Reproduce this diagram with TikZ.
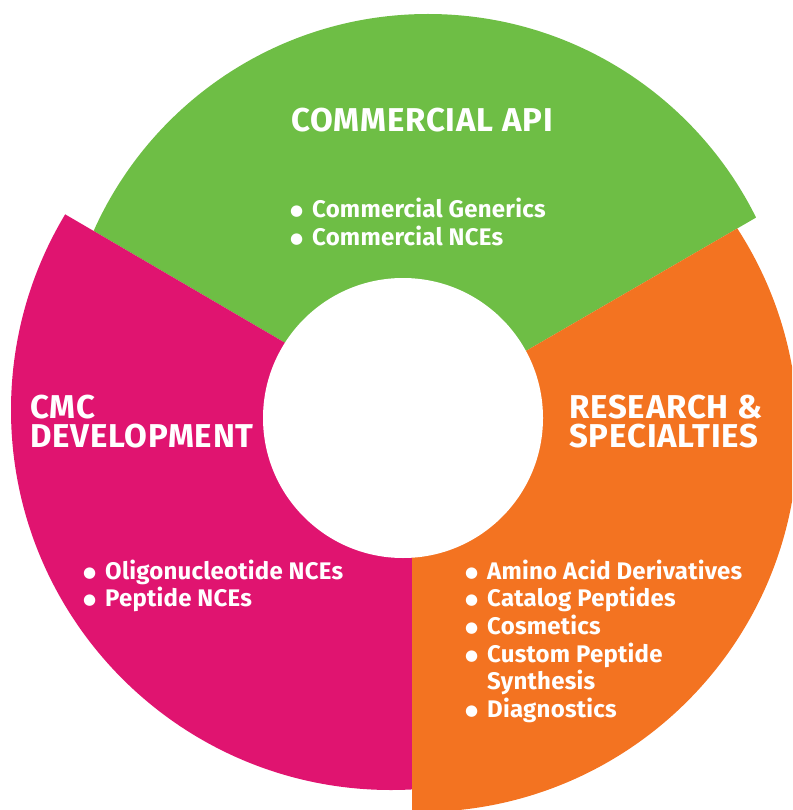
\documentclass[tikz,border=0pt]{standalone}
\usepackage{fontspec}
\newfontfamily\titlefont{Fira Sans}[LetterSpace=2.5]
\newfontfamily\listfont{Fira Sans}[LetterSpace=1]
\newfontfamily\dotfont{DejaVu Sans}
\definecolor{apigreen}{RGB}{110,190,69}
\definecolor{cmcpink}{RGB}{224,20,112}
\definecolor{rsorange}{RGB}{243,115,33}
\tikzset{
  sectitle/.style={anchor=north west, inner sep=0pt, text=white, align=left,
    font=\titlefont\bfseries\fontsize{33}{29}\selectfont},
  seclist/.style={anchor=base west, inner sep=0pt, text=white,
    font=\listfont\bfseries\fontsize{24}{27.6}\selectfont},
}
\newcommand{\dotitem}{\makebox[22pt][l]{\raisebox{2pt}{\dotfont\fontsize{15}{15}\selectfont ●}}}
\newcommand{\itemlist}[1]{\begin{tabular}[t]{@{}l@{}l@{}}#1\end{tabular}}

\begin{document}
\begin{tikzpicture}[x=1pt, y=-1pt]
	\clip (0, 0) rectangle (792, 810);
	\coordinate (apex) at (412, 417);
	\path (apex) ++(-30.1:1200) coordinate (ne) ++(0, 1600) coordinate (se);
	\path (apex) ++(-149.7:1200) coordinate (nw) ++(0, 1600) coordinate (sw);
	\path (apex) ++(0, 1200) coordinate (s);
	% green
	\begin{scope}
		\clip (apex) -- (ne) -- ++(0, -800) -| (nw) -- cycle;
		\fill[apigreen] (428, 380) circle[radius=366pt];
	\end{scope}
	% pink
	\begin{scope}
		\clip (apex) -- (nw) -- (sw) -| (s) -- cycle;
		\fill[cmcpink] (391, 410) circle[radius=380pt];
	\end{scope}
	% orange
	\begin{scope}
		\clip (apex) -- (ne) -- (se) -| (s) -- cycle;
		\fill[rsorange] (420, 434) circle[radius=378pt];
	\end{scope}
	\fill[white] (403, 418) circle[radius=140pt];

	\node[sectitle] (apititle) at (291, 108) {COMMERCIAL API};
	\node[seclist] (apilist) at (290, 218) {\itemlist{
		\dotitem & Commercial Generics\\
		\dotitem & Commercial NCEs}};
	\node[sectitle] (cmctitle) at (30, 395) {CMC\\DEVELOPMENT};
	\node[seclist] (cmclist) at (83, 579) {\itemlist{
		\dotitem & Oligonucleotide NCEs\\
		\dotitem & Peptide NCEs}};
	\node[sectitle] (rstitle) at (569, 395) {RESEARCH \&\\SPECIALTIES};
	\node[seclist] (rslist) at (465, 579) {\itemlist{
		\dotitem & Amino Acid Derivatives\\
		\dotitem & Catalog Peptides\\
		\dotitem & Cosmetics\\
		\dotitem & Custom Peptide\\
		         & Synthesis\\
		\dotitem & Diagnostics}};
\end{tikzpicture}
\end{document}
